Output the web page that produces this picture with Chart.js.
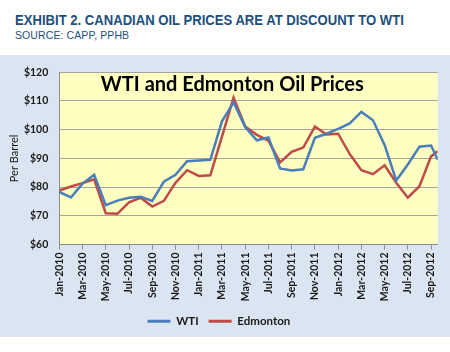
<!DOCTYPE html>
<html>
<head>
<meta charset="utf-8">
<script src="https://cdn.jsdelivr.net/npm/chart.js@4.4.1/dist/chart.umd.min.js"></script>
<style>
    html, body { margin: 0; padding: 0; background: #fff; }
    body { width: 450px; height: 352px; position: relative; overflow: hidden; }
    .head { position: absolute; left: 15px; top: 12px; color: #1d4f7c; }
    .head h1 { margin: 0; font: bold 14px/16px "Liberation Sans Narrow", "Liberation Sans", Arial, sans-serif;
               white-space: nowrap; transform: scaleX(0.935); transform-origin: left center; }
    .head p { margin: 1px 0 0; font: 10.5px/12px "Liberation Sans", Arial, sans-serif; letter-spacing: 0.1px; white-space: nowrap; }
    .panel { position: absolute; left: 0; top: 55px; width: 450px; height: 282px; background: #dbe5f1; }
    canvas { display: block; }
</style>
</head>
<body>
<div class="head">
    <h1>EXHIBIT 2. CANADIAN OIL PRICES ARE AT DISCOUNT TO WTI</h1>
    <p>SOURCE: CAPP, PPHB</p>
</div>
<div class="panel"><canvas id="oilChart" width="450" height="282"></canvas></div>
<script>
const months = [
    "Jan-2010", "Feb-2010", "Mar-2010", "Apr-2010", "May-2010", "Jun-2010",
    "Jul-2010", "Aug-2010", "Sep-2010", "Oct-2010", "Nov-2010", "Dec-2010",
    "Jan-2011", "Feb-2011", "Mar-2011", "Apr-2011", "May-2011", "Jun-2011",
    "Jul-2011", "Aug-2011", "Sep-2011", "Oct-2011", "Nov-2011", "Dec-2011",
    "Jan-2012", "Feb-2012", "Mar-2012", "Apr-2012", "May-2012", "Jun-2012",
    "Jul-2012", "Aug-2012", "Sep-2012", "Oct-2012"
];
// months since Jan-2010; the last reading is a partial month
const readingMonth = [
    0, 1, 2, 3, 4, 5, 6, 7, 8, 9, 10, 11,
    12, 13, 14, 15, 16, 17, 18, 19, 20, 21, 22, 23,
    24, 25, 26, 27, 28, 29, 30, 31, 32, 32.57
];
const wti = [
    78.3, 76.4, 81.2, 84.3, 73.7, 75.3, 76.3, 76.6, 75.2, 81.9, 84.3, 89.0,
    89.3, 89.5, 102.9, 109.5, 100.9, 96.3, 97.3, 86.5, 85.8, 86.2, 97.2, 98.6,
    100.3, 102.2, 106.2, 103.3, 94.7, 82.3, 87.9, 94.1, 94.5, 89.5
];
const edmonton = [
    78.8, 80.2, 81.4, 82.7, 70.9, 70.7, 74.7, 76.3, 73.2, 75.2, 81.5, 85.9,
    83.9, 84.1, 97.6, 111.2, 101.1, 98.2, 96.2, 88.6, 92.3, 93.8, 101.1, 98.3,
    98.6, 91.5, 85.9, 84.5, 87.6, 81.5, 76.3, 80.3, 90.7, 92.5
];
const yTicks = [60, 70, 80, 90, 100, 110, 120];

const points = (vals) => vals.map((v, i) => ({ x: readingMonth[i], y: v }));

// yellow plot area + title inside it
const plotArea = {
    id: "plotArea",
    beforeDraw(chart) {
        const { ctx, chartArea: a } = chart;
        ctx.save();
        ctx.fillStyle = "#ffffc1";
        ctx.fillRect(a.left, a.top, a.right - a.left, a.bottom - a.top);
        ctx.restore();
    },
    afterDraw(chart) {
        const { ctx, chartArea: a } = chart;
        ctx.save();
        ctx.font = "bold 20px Lato";
        ctx.fillStyle = "#000";
        ctx.textAlign = "center";
        ctx.textBaseline = "alphabetic";
        ctx.fillText("WTI and Edmonton Oil Prices", a.left + 173, a.top + 19);
        ctx.restore();
    }
};

new Chart(document.getElementById("oilChart"), {
    type: "line",
    data: {
        datasets: [
            { label: "WTI", data: points(wti), borderColor: "#4a7ebb", backgroundColor: "#4a7ebb", borderWidth: 2.5, pointRadius: 0, tension: 0 },
            { label: "Edmonton", data: points(edmonton), borderColor: "#be4b48", backgroundColor: "#be4b48", borderWidth: 2.5, pointRadius: 0, tension: 0 }
        ]
    },
    options: {
        responsive: false,
        animation: false,
        devicePixelRatio: 1,
        layout: { padding: { top: 12.5, right: 12.3, left: 0, bottom: 0 } },
        plugins: {
            legend: {
                position: "bottom",
                labels: {
                    boxWidth: 23,
                    boxHeight: 3,
                    padding: 10,
                    color: "#1a1a1a",
                    font: { family: "Lato", size: 11.5, weight: "bold" },
                    generateLabels: (chart) => Chart.defaults.plugins.legend.labels.generateLabels(chart)
                        .map((l) => ({ ...l, lineWidth: 0, fillStyle: l.strokeStyle }))
                }
            },
            tooltip: { enabled: false }
        },
        scales: {
            x: {
                type: "linear",
                min: 0,
                max: readingMonth[readingMonth.length - 1],
                afterFit: (s) => { s.height = 61; },
                grid: { drawOnChartArea: false, drawTicks: true, tickLength: 5, color: "#8c8c8c" },
                border: { color: "#8c8c8c" },
                ticks: {
                    stepSize: 2,
                    includeBounds: false,
                    autoSkip: false,
                    minRotation: 90,
                    maxRotation: 90,
                    padding: 3,
                    color: "#1a1a1a",
                    font: { family: "Lato", size: 10.5, weight: "bold" },
                    callback: (v) => months[v]
                }
            },
            y: {
                min: yTicks[0],
                max: yTicks[yTicks.length - 1],
                afterFit: (s) => { s.width = 59.3; },
                grid: { color: "#a3a3a3", drawTicks: false },
                border: { color: "#8c8c8c" },
                title: {
                    display: true,
                    text: "Per Barrel",
                    color: "#1a1a1a",
                    font: { family: "Lato", size: 11 },
                    padding: { top: 8, bottom: 0 }
                },
                ticks: {
                    stepSize: 10,
                    padding: 11,
                    color: "#1a1a1a",
                    font: { family: "Lato", size: 10.5, weight: "bold" },
                    callback: (v) => "$" + v
                }
            }
        }
    },
    plugins: [plotArea]
});
</script>
</body>
</html>
